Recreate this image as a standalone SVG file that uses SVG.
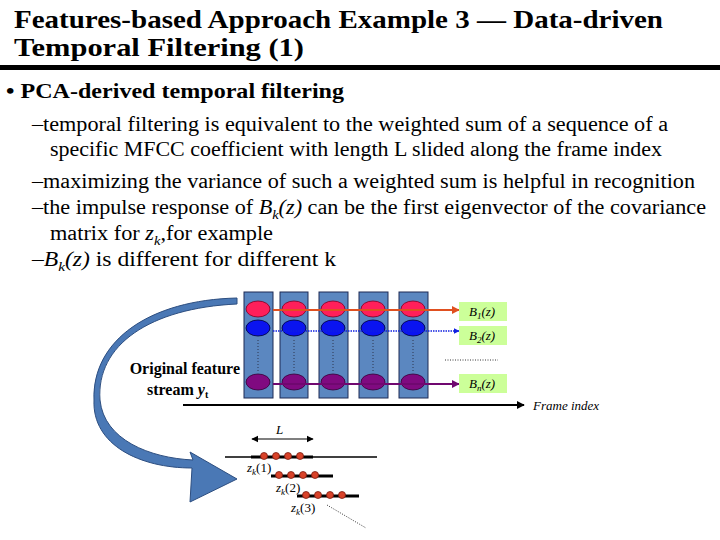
<svg xmlns="http://www.w3.org/2000/svg" width="720" height="540" viewBox="0 0 720 540" font-family="'Liberation Serif', 'Times New Roman', serif">
<style>
.t{fill:#000}
.col{fill:#5b87c0;stroke:#1e2a55;stroke-width:1}
.lab{fill:#ccff99}
.it{font-style:italic;font-size:13px}
.dot{fill:#d9432a;stroke:#7a1a10;stroke-width:0.8}
</style>
<defs>
<marker id="ar" viewBox="0 0 10 10" refX="9" refY="5" markerWidth="4" markerHeight="4" orient="auto"><path d="M0,0L10,5L0,10z" fill="context-stroke"/></marker>
<marker id="ar2" viewBox="0 0 10 10" refX="9" refY="5" markerWidth="6" markerHeight="6" orient="auto-start-reverse"><path d="M0,0L10,5L0,10z" fill="#000"/></marker>
</defs>
<rect width="720" height="540" fill="#fff"/>
<text class="t" x="14" y="28" font-size="25" font-weight="bold" textLength="649" lengthAdjust="spacingAndGlyphs">Features-based Approach Example 3 — Data-driven</text>
<text class="t" x="14" y="56" font-size="25" font-weight="bold" textLength="290" lengthAdjust="spacingAndGlyphs">Temporal Filtering (1)</text>
<rect x="0" y="65" width="720" height="5" fill="#000"/>
<text class="t" x="6" y="98" font-size="22" font-weight="bold" textLength="338" lengthAdjust="spacingAndGlyphs">• PCA-derived temporal filtering</text>
<g class="t" font-size="20">
<text x="32" y="131" textLength="636" lengthAdjust="spacingAndGlyphs">–temporal filtering is equivalent to the weighted sum of a sequence of a</text>
<text x="50" y="156" textLength="612" lengthAdjust="spacingAndGlyphs">specific MFCC coefficient with length L slided along the frame index</text>
<text x="32" y="188" textLength="663" lengthAdjust="spacingAndGlyphs">–maximizing the variance of such a weighted sum is helpful in recognition</text>
<text x="32" y="214" textLength="674" lengthAdjust="spacingAndGlyphs">–the impulse response of <tspan font-style="italic">B</tspan><tspan font-style="italic" font-size="13" dy="5">k</tspan><tspan dy="-5" font-style="italic">(z)</tspan> can be the first eigenvector of the covariance</text>
<text x="50" y="240" textLength="223" lengthAdjust="spacingAndGlyphs">matrix for <tspan font-style="italic">z</tspan><tspan font-style="italic" font-size="13" dy="5">k</tspan><tspan dy="-5">,for example</tspan></text>
<text x="32" y="266" textLength="304" lengthAdjust="spacingAndGlyphs">–<tspan font-style="italic">B</tspan><tspan font-style="italic" font-size="13" dy="5">k</tspan><tspan dy="-5" font-style="italic">(z)</tspan> is different for different k</text>
</g>
<g id="curve">
<path d="M237,304 C150,308 96,345 100,400 C104,440 150,458 193,460 L190,452 L237,479 L190,502 L192,468 C140,468 92,445 94,400 C92,340 150,300 237,298 Z" fill="#4a78b5" stroke="#2d4e80" stroke-width="1"/>
</g>
<g id="columns">
<rect class="col" x="244" y="292" width="29" height="106"/>
<rect class="col" x="280" y="292" width="28" height="106"/>
<rect class="col" x="319" y="292" width="29" height="106"/>
<rect class="col" x="359" y="292" width="29" height="106"/>
<rect class="col" x="399" y="292" width="29" height="106"/>
<g stroke="#223" stroke-width="0.8" stroke-dasharray="1,2">
<line x1="258" y1="340" x2="258" y2="372"/><line x1="294" y1="340" x2="294" y2="372"/><line x1="333" y1="340" x2="333" y2="372"/><line x1="373" y1="340" x2="373" y2="372"/><line x1="413" y1="340" x2="413" y2="372"/>
</g>
<g fill="#ff1f5a" stroke="#702" stroke-width="0.8">
<ellipse cx="258" cy="309" rx="12" ry="8"/><ellipse cx="294" cy="309" rx="12" ry="8"/><ellipse cx="333" cy="309" rx="12" ry="8"/><ellipse cx="373" cy="309" rx="12" ry="8"/><ellipse cx="413" cy="309" rx="12" ry="8"/>
</g>
<g fill="#0a14f0" stroke="#003" stroke-width="0.8">
<ellipse cx="258" cy="328" rx="12" ry="8"/><ellipse cx="294" cy="328" rx="12" ry="8"/><ellipse cx="333" cy="328" rx="12" ry="8"/><ellipse cx="373" cy="328" rx="12" ry="8"/><ellipse cx="413" cy="328" rx="12" ry="8"/>
</g>
<g fill="#800a80" stroke="#303" stroke-width="0.8">
<ellipse cx="258" cy="382" rx="12" ry="8"/><ellipse cx="294" cy="382" rx="12" ry="8"/><ellipse cx="333" cy="382" rx="12" ry="8"/><ellipse cx="373" cy="382" rx="12" ry="8"/><ellipse cx="413" cy="382" rx="12" ry="8"/>
</g>
</g>
<g id="connectors">
<line x1="273" y1="310" x2="459" y2="310" stroke="#e05020" stroke-width="2" marker-end="url(#ar)"/>
<line x1="273" y1="331" x2="459" y2="331" stroke="#1020e0" stroke-width="1.5" stroke-dasharray="1.5,1" marker-end="url(#ar)"/>
<line x1="273" y1="384" x2="459" y2="384" stroke="#700870" stroke-width="2" marker-end="url(#ar)"/>
<line x1="183" y1="405" x2="524" y2="405" stroke="#000" stroke-width="2" marker-end="url(#ar)"/>
<line x1="445" y1="360" x2="498" y2="360" stroke="#000" stroke-width="0.8" stroke-dasharray="1,1.5"/>
<line x1="252" y1="439" x2="313" y2="439" stroke="#000" stroke-width="1.2" marker-start="url(#ar2)" marker-end="url(#ar2)"/>
<line x1="327" y1="505" x2="366" y2="528" stroke="#000" stroke-width="0.8" stroke-dasharray="1,1.5"/>
</g>
<g id="labels">
<rect class="lab" x="459" y="302" width="48" height="19"/>
<rect class="lab" x="459" y="326" width="48" height="19"/>
<rect class="lab" x="459" y="374" width="48" height="19"/>
<text class="it" x="469" y="316">B<tspan font-size="9" dy="3">1</tspan><tspan dy="-3">(z)</tspan></text>
<text class="it" x="469" y="340">B<tspan font-size="9" dy="3">2</tspan><tspan dy="-3">(z)</tspan></text>
<text class="it" x="469" y="388">B<tspan font-size="9" dy="3">n</tspan><tspan dy="-3">(z)</tspan></text>
<text class="it" x="533" y="410">Frame index</text>
<text class="t" x="240" y="374" font-size="16" font-weight="bold" text-anchor="end">Original feature</text>
<text class="t" x="147" y="395" font-size="16" font-weight="bold">stream <tspan font-style="italic">y</tspan><tspan font-size="10" dy="3">t</tspan></text>
<text class="it" x="276" y="434" font-size="12">L</text>
</g>
<g id="segments">
<line x1="225" y1="457" x2="377" y2="457" stroke="#000" stroke-width="1.5"/>
<line x1="251" y1="457" x2="313" y2="457" stroke="#000" stroke-width="3"/>
<line x1="271" y1="476" x2="333" y2="476" stroke="#000" stroke-width="3"/>
<line x1="297" y1="496" x2="359" y2="496" stroke="#000" stroke-width="3"/>
<circle class="dot" cx="264" cy="456" r="3.5"/><circle class="dot" cx="276" cy="456" r="3.5"/><circle class="dot" cx="288" cy="456" r="3.5"/><circle class="dot" cx="300" cy="456" r="3.5"/>
<circle class="dot" cx="279" cy="475" r="3.5"/><circle class="dot" cx="291" cy="475" r="3.5"/><circle class="dot" cx="303" cy="475" r="3.5"/><circle class="dot" cx="315" cy="475" r="3.5"/>
<circle class="dot" cx="306" cy="495" r="3.5"/><circle class="dot" cx="318" cy="495" r="3.5"/><circle class="dot" cx="330" cy="495" r="3.5"/><circle class="dot" cx="342" cy="495" r="3.5"/>
<text class="it" x="247" y="472" font-size="13">z<tspan font-size="9" dy="3">k</tspan><tspan dy="-3" font-style="normal">(1)</tspan></text>
<text class="it" x="276" y="492" font-size="13">z<tspan font-size="9" dy="3">k</tspan><tspan dy="-3" font-style="normal">(2)</tspan></text>
<text class="it" x="291" y="512" font-size="13">z<tspan font-size="9" dy="3">k</tspan><tspan dy="-3" font-style="normal">(3)</tspan></text>
</g>
</svg>
